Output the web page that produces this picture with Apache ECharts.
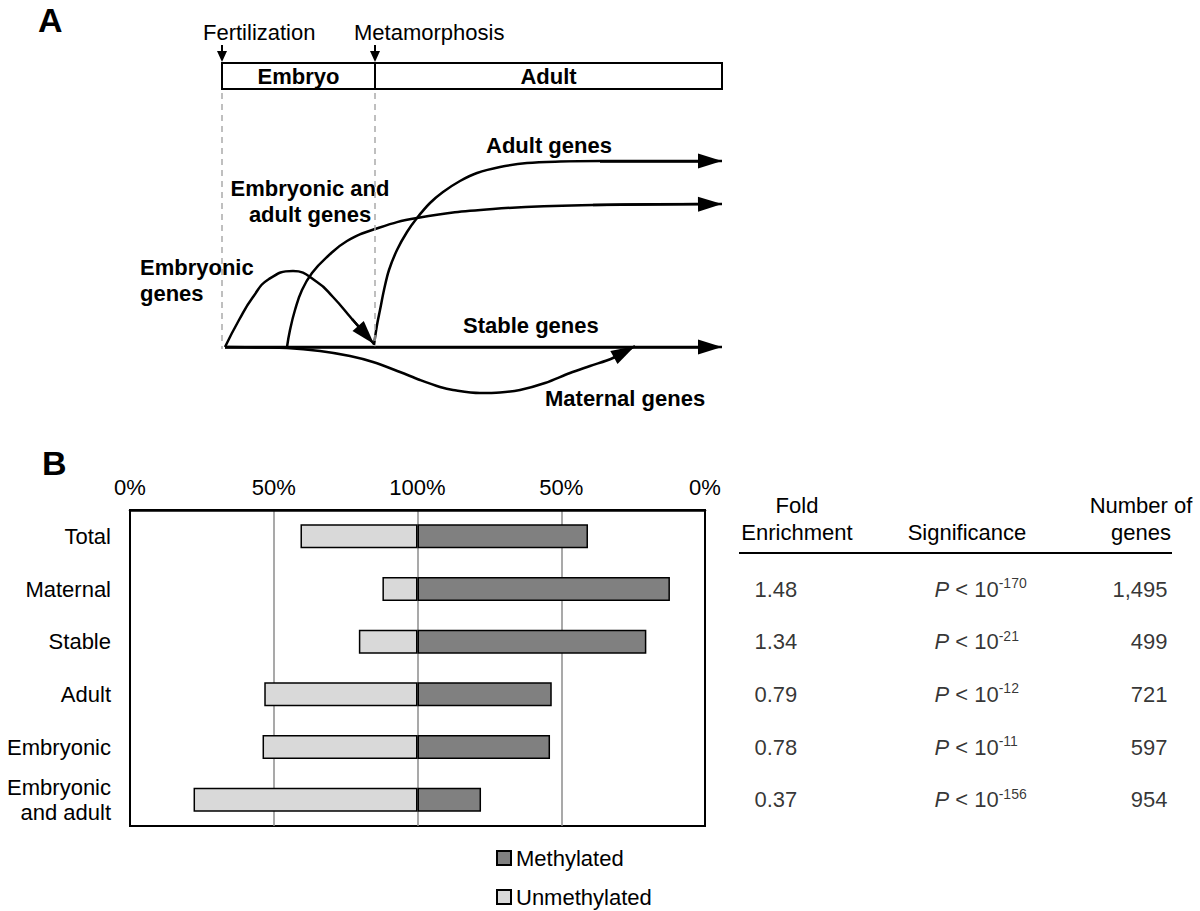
<!DOCTYPE html>
<html><head><meta charset="utf-8">
<script src="https://cdn.jsdelivr.net/npm/echarts@6/dist/echarts.min.js"></script>
<style>html,body{margin:0;padding:0;background:#fff}#c{width:1200px;height:911px}</style>
</head><body><div id="c"></div>
<script>
const FONT = "'Liberation Sans', Arial, Helvetica, sans-serif";

// ---------- Panel B data ----------
const categories = ['Total', 'Maternal', 'Stable', 'Adult', 'Embryonic', 'Embryonic\nand adult'];
const methylated = [59.3, 87.8, 79.6, 46.7, 46.1, 22.1];      // % methylated
const unmethylated = [40.7, 12.2, 20.4, 53.3, 53.9, 77.9];    // % unmethylated
const tableCategories = categories.slice(1);
const foldEnrichment = ['1.48', '1.34', '0.79', '0.78', '0.37'];
const pExponents = ['-170', '-21', '-12', '-11', '-156'];
const geneCounts = ['1,495', '499', '721', '597', '954'];
const tableColumns = ['fold', 'sig', 'n'];

// ---------- Panel A data (schematic: time on x, expression on y) ----------
const phaseNames = ['Embryo', 'Adult'];
const phaseBounds = [0, 153, 500];
const phaseBand = [258, 284];
const eventNames = ['Fertilization', 'Metamorphosis'];
const stableGenes = [[3, 0], [500, 0]];
const embryonicGenes = [[3, 0], [17, 27], [31, 50], [47, 68], [71, 76], [95, 65], [111, 50], [130, 28], [152, 3]];
const embryonicAdultGenes = [[65, 0], [68, 17], [73, 37], [80, 57], [90, 74], [105, 90], [125, 106], [153, 118], [195, 129], [271, 138], [371, 142], [500, 143]];
const adultGenes = [[152, 2], [155, 22], [158, 37], [162, 57], [167, 77], [175, 97], [185, 115], [195, 129], [208, 144], [221, 155], [238, 166], [255, 174], [278, 180], [305, 184], [338, 185.5], [378, 186], [500, 186]];
const maternalGenes = [[3, 0], [38, -0.5], [65, -1], [98, -4], [128, -9], [151, -15], [178, -25], [198, -33], [218, -40], [231, -43], [258, -46], [278, -45.5], [298, -43], [323, -36], [348, -26], [368, -19], [391, -11], [413, 1]];

// Arrow head: ECharts centres the end symbol on the end point, so the end point of the
// marker segment is pulled back along the curve's last direction by half the head length
// (panel A axes use equal units per pixel on x and y).
function arrowSegment(a, b, headLen) {
  const dx = b[0] - a[0], dy = b[1] - a[1];
  const L = Math.hypot(dx, dy);
  return [{ coord: a }, { coord: [b[0] - dx / L * headLen / 2, b[1] - dy / L * headLen / 2] }];
}

const HEAD = 24;
function curve(name, pts, smooth) {
  const n = pts.length;
  return {
    name, type: 'line', xAxisIndex: 0, yAxisIndex: 0, data: pts,
    smooth: smooth, symbol: 'none', silent: true,
    lineStyle: { color: '#000', width: 2.5 },
    markLine: {
      silent: true, symbol: ['none', 'triangle'], symbolSize: [15, HEAD],
      label: { show: false },
      lineStyle: { color: '#000', width: 2.5, type: 'solid' },
      itemStyle: { color: '#000' },
      data: [arrowSegment(pts[n - 2], pts[n - 1], HEAD)]
    }
  };
}

const chart = echarts.init(document.getElementById('c'), null, { renderer: 'svg' });

const legendCommon = {
  orient: 'vertical', left: 496, padding: 0, itemWidth: 14, itemHeight: 14,
  icon: 'rect', textStyle: { color: '#000', fontSize: 22, fontFamily: FONT }
};

const option = {
  backgroundColor: '#fff',
  animation: false,
  textStyle: { fontFamily: FONT },
  grid: [
    { left: 222, right: 478, top: 27, bottom: 484 },
    { left: 130, right: 495, top: 510, bottom: 85, show: true, borderColor: '#000', borderWidth: 2, backgroundColor: 'transparent' },
    { left: 754, right: 32, top: 510, bottom: 85 }
  ],
  xAxis: [
    { gridIndex: 0, type: 'value', min: 0, max: 500, show: false },
    {
      gridIndex: 1, type: 'value', min: -100, max: 100, interval: 50, position: 'top',
      axisLine: { show: true, lineStyle: { color: '#000', width: 2.5 } },
      axisTick: { show: false },
      axisLabel: { color: '#000', fontSize: 22, fontFamily: FONT, margin: 12, formatter: v => (100 - Math.abs(v)) + '%' },
      splitLine: { show: true, lineStyle: { color: ['#000', '#8c8c8c', '#8c8c8c', '#8c8c8c', '#000'], width: 1.5 } }
    },
    { gridIndex: 2, type: 'category', data: tableColumns, boundaryGap: false, show: false }
  ],
  yAxis: [
    { gridIndex: 0, type: 'value', min: -80, max: 320, show: false },
    {
      gridIndex: 1, type: 'category', data: categories, inverse: true,
      axisLine: { show: false }, axisTick: { show: false }, splitLine: { show: false },
      axisLabel: { color: '#000', fontSize: 22, fontFamily: FONT, margin: 19, lineHeight: 25, align: 'right' }
    },
    { gridIndex: 2, type: 'category', data: categories, inverse: true, show: false }
  ],
  legend: [
    Object.assign({ top: 847, data: ['Methylated'] }, legendCommon),
    Object.assign({ top: 886, data: ['Unmethylated'] }, legendCommon)
  ],
  series: [
    // ----- Panel A: timeline bands, boundaries and events -----
    {
      name: 'phases', type: 'line', xAxisIndex: 0, yAxisIndex: 0, data: [], silent: true,
      markArea: {
        silent: true,
        itemStyle: { color: '#fff', borderColor: '#000', borderWidth: 2 },
        label: { show: true, position: 'inside', color: '#000', fontSize: 22, fontWeight: 'bold', fontFamily: FONT },
        data: phaseNames.map((nm, i) => [
          { name: nm, coord: [phaseBounds[i], phaseBand[0]] },
          { coord: [phaseBounds[i + 1], phaseBand[1]] }
        ])
      },
      markLine: {
        silent: true, symbol: ['none', 'none'], label: { show: false },
        lineStyle: { color: '#aaa', width: 1.5, type: [6, 5] },
        data: phaseBounds.slice(0, 2).map(b => [{ coord: [b, phaseBand[0] - 4] }, { coord: [b, -2] }])
      }
    },
    {
      name: 'events', type: 'line', xAxisIndex: 0, yAxisIndex: 0, data: [], silent: true,
      markLine: {
        silent: true, symbol: ['none', 'triangle'], symbolSize: [10, 11],
        label: { show: false },
        lineStyle: { color: '#000', width: 2, type: 'solid' },
        itemStyle: { color: '#000' },
        data: eventNames.map((nm, i) => arrowSegment([phaseBounds[i], phaseBand[1] + 18], [phaseBounds[i], phaseBand[1] + 1], 11))
      }
    },
    curve('Stable genes', stableGenes, 0.35),
    curve('Embryonic genes', embryonicGenes, 0.5),
    curve('Embryonic and adult genes', embryonicAdultGenes, 0.45),
    curve('Adult genes', adultGenes, 0.35),
    curve('Maternal genes', maternalGenes, 0.35),

    // ----- Panel B: bars -----
    {
      name: 'Methylated', type: 'bar', xAxisIndex: 1, yAxisIndex: 1, stack: 'm', barWidth: 24,
      data: methylated,
      itemStyle: { color: '#808080', borderColor: '#000', borderWidth: 1.5 }
    },
    {
      name: 'Unmethylated', type: 'bar', xAxisIndex: 1, yAxisIndex: 1, stack: 'm', barWidth: 24,
      data: unmethylated.map(v => -v),
      itemStyle: { color: '#d9d9d9', borderColor: '#000', borderWidth: 1.5 }
    },

    // ----- Panel B: table -----
    {
      name: 'fold', type: 'scatter', xAxisIndex: 2, yAxisIndex: 2, symbolSize: 1, silent: true,
      itemStyle: { color: 'transparent' },
      data: tableCategories.map(c => ['fold', c]),
      label: { show: true, position: 'right', distance: 0, color: '#000', fontSize: 22, fontFamily: FONT, formatter: p => foldEnrichment[p.dataIndex] }
    },
    {
      name: 'sig', type: 'scatter', xAxisIndex: 2, yAxisIndex: 2, symbolSize: 1, silent: true,
      itemStyle: { color: 'transparent' },
      data: tableCategories.map(c => ['sig', c]),
      label: {
        show: true, position: 'right', distance: 0, offset: [-27, 0], color: '#000', fontFamily: FONT,
        formatter: p => '{i|P}{t| < 10}{s|' + pExponents[p.dataIndex] + '}',
        rich: {
          i: { fontStyle: 'italic', fontSize: 22, lineHeight: 26, color: '#000', fontFamily: FONT },
          t: { fontSize: 22, lineHeight: 26, color: '#000', fontFamily: FONT },
          s: { fontSize: 14, lineHeight: 14, verticalAlign: 'top', color: '#000', fontFamily: FONT }
        }
      }
    },
    {
      name: 'n', type: 'scatter', xAxisIndex: 2, yAxisIndex: 2, symbolSize: 1, silent: true,
      itemStyle: { color: 'transparent' },
      data: tableCategories.map(c => ['n', c]),
      label: { show: true, position: 'left', distance: 0, color: '#000', fontSize: 22, fontFamily: FONT, formatter: p => geneCounts[p.dataIndex] }
    }
  ],
  graphic: [
    { type: 'text', x: 38, y: 20, style: { text: 'A', font: 'bold 34px ' + FONT, fill: '#000', verticalAlign: 'middle' } },
    { type: 'text', x: 42, y: 463, style: { text: 'B', font: 'bold 34px ' + FONT, fill: '#000', verticalAlign: 'middle' } },
    { type: 'text', x: 203, y: 32, style: { text: eventNames[0], font: '22px ' + FONT, fill: '#000', verticalAlign: 'middle' } },
    { type: 'text', x: 354, y: 32, style: { text: eventNames[1], font: '22px ' + FONT, fill: '#000', verticalAlign: 'middle' } },
    { type: 'text', x: 486, y: 145, style: { text: 'Adult genes', font: 'bold 22px ' + FONT, fill: '#000', verticalAlign: 'middle' } },
    { type: 'text', x: 310, y: 201, style: { text: 'Embryonic and\nadult genes', font: 'bold 22px ' + FONT, lineHeight: 26, fill: '#000', align: 'center', verticalAlign: 'middle' } },
    { type: 'text', x: 140, y: 280, style: { text: 'Embryonic\ngenes', font: 'bold 22px ' + FONT, lineHeight: 26, fill: '#000', verticalAlign: 'middle' } },
    { type: 'text', x: 463, y: 325, style: { text: 'Stable genes', font: 'bold 22px ' + FONT, fill: '#000', verticalAlign: 'middle' } },
    { type: 'text', x: 545, y: 398, style: { text: 'Maternal genes', font: 'bold 22px ' + FONT, fill: '#000', verticalAlign: 'middle' } },
    { type: 'text', x: 797, y: 519, style: { text: 'Fold\nEnrichment', font: '22px ' + FONT, lineHeight: 27, fill: '#000', align: 'center', verticalAlign: 'middle' } },
    { type: 'text', x: 967, y: 532, style: { text: 'Significance', font: '22px ' + FONT, fill: '#000', align: 'center', verticalAlign: 'middle' } },
    { type: 'text', x: 1141, y: 519, style: { text: 'Number of\ngenes', font: '22px ' + FONT, lineHeight: 27, fill: '#000', align: 'center', verticalAlign: 'middle' } },
    { type: 'line', shape: { x1: 739, y1: 553, x2: 1172, y2: 553 }, style: { stroke: '#000', lineWidth: 2 } }
  ]
};
chart.setOption(option);
</script>
</body></html>
